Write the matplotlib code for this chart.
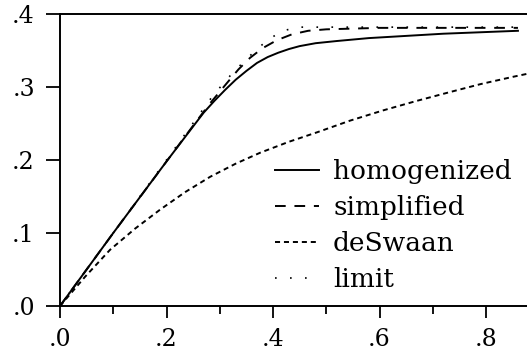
import numpy as np
import matplotlib
matplotlib.use('Agg')
import matplotlib.pyplot as plt
from matplotlib.ticker import MultipleLocator, FixedLocator

plt.rcParams['font.family'] = ['DejaVu Serif']

# values
x_hom = [0.0, 0.05, 0.10, 0.15, 0.20, 0.25, 0.27, 0.29, 0.31, 0.33, 0.35, 0.37, 0.39, 0.41, 0.43, 0.45, 0.48, 0.52, 0.58, 0.65, 0.72, 0.79, 0.86]
y_hom = [0.0, 0.050, 0.100, 0.149, 0.198, 0.246, 0.265, 0.281, 0.296, 0.310, 0.322, 0.333, 0.341, 0.347, 0.352, 0.356, 0.360, 0.363, 0.367, 0.370, 0.373, 0.375, 0.377]

x_simp = [0.0, 0.10, 0.20, 0.25, 0.28, 0.313, 0.335, 0.357, 0.38, 0.407, 0.435, 0.466, 0.50, 0.55, 0.60, 0.86]
y_simp = [0.0, 0.100, 0.198, 0.247, 0.276, 0.305, 0.324, 0.340, 0.353, 0.364, 0.372, 0.377, 0.379, 0.380, 0.381, 0.381]

x_desw = [0.0, 0.047, 0.094, 0.141, 0.188, 0.235, 0.282, 0.33, 0.376, 0.43, 0.483, 0.545, 0.607, 0.67, 0.732, 0.79, 0.851, 0.877]
y_desw = [0.0, 0.040, 0.077, 0.106, 0.132, 0.156, 0.177, 0.195, 0.210, 0.225, 0.238, 0.254, 0.268, 0.281, 0.293, 0.304, 0.314, 0.318]

x_lim = [0.0, 0.10, 0.20, 0.288, 0.325, 0.35, 0.37, 0.393, 0.419, 0.447, 0.47, 0.86]
y_lim = [0.0, 0.100, 0.200, 0.289, 0.320, 0.338, 0.352, 0.366, 0.377, 0.382, 0.382, 0.382]

xticks = [0.0, 0.2, 0.4, 0.6, 0.8]
xlabels = ['.0', '.2', '.4', '.6', '.8']
yticks = [0.0, 0.1, 0.2, 0.3, 0.4]
ylabels = ['.0', '.1', '.2', '.3', '.4']

fig = plt.figure(figsize=(5.27, 3.6), dpi=100)
ax = fig.add_axes([60/527, 1-306/360, 1-60/527, (306-14)/360])

lw = 1.4
ax.plot(x_hom, y_hom, color='black', lw=lw, linestyle='-', label='homogenized')
ax.plot(x_simp, y_simp, color='black', lw=lw, linestyle=(0, (5.5, 4.5)), label='simplified')
ax.plot(x_desw, y_desw, color='black', lw=lw, linestyle=(0, (2.6, 2.0)), label='deSwaan')
ax.plot(x_lim, y_lim, color='black', lw=1.2, linestyle=(0, (1, 8)), label='limit')

ax.set_xlim(0, 467/532.5)
ax.set_ylim(0, 0.4)

ax.spines['right'].set_visible(False)
for s in ['left', 'bottom', 'top']:
    ax.spines[s].set_linewidth(1.4)

ax.xaxis.set_major_locator(FixedLocator(xticks))
ax.set_xticklabels(xlabels)
ax.xaxis.set_minor_locator(MultipleLocator(0.1))
ax.yaxis.set_major_locator(FixedLocator(yticks))
ax.set_yticklabels(ylabels)

ax.tick_params(axis='x', which='major', direction='out', length=8.5, width=1.3, pad=7, labelsize=17)
ax.tick_params(axis='x', which='minor', direction='out', length=6, width=1.3)
ax.tick_params(axis='y', which='major', direction='out', length=10, width=1.3, pad=8, labelsize=17)

leg = ax.legend(loc='lower left', bbox_to_anchor=((275-60)/467, (306-292)/292),
                frameon=False, fontsize=19, handlelength=1.65, handletextpad=0.55,
                labelspacing=0.42, borderaxespad=0, borderpad=0)

fig.savefig('out.png', dpi=100)
